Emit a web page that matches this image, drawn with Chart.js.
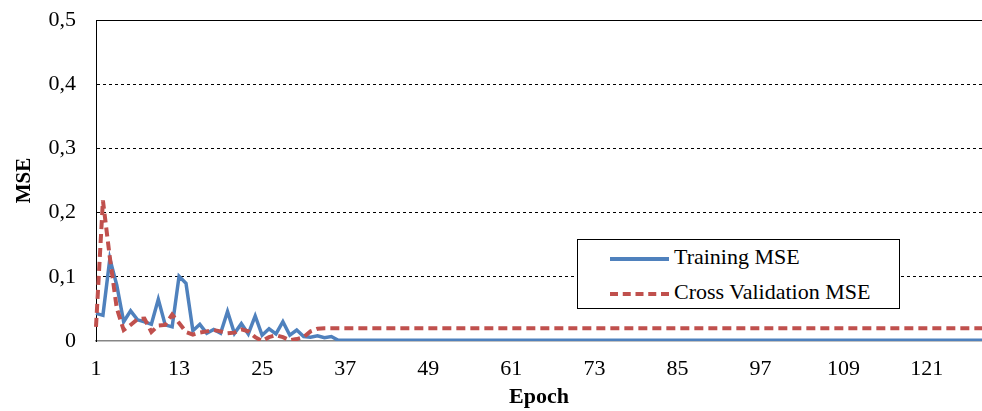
<!DOCTYPE html>
<html>
<head>
<meta charset="utf-8">
<script src="https://cdn.jsdelivr.net/npm/chart.js@4"></script>
<style>
    body { margin: 0; background: #fff; }
    #wrap { position: relative; width: 982px; height: 411px; }
    #legend {
        position: absolute; left: 577px; top: 239px; width: 323px; height: 70px;
        border: 1px solid #000; background: #fff; box-sizing: border-box;
        font-family: 'Liberation Serif', serif; font-size: 22px; color: #000;
    }
    .item { position: absolute; left: 32px; height: 24px; line-height: 24px; white-space: nowrap; }
    .item span.s { display: inline-block; width: 59px; vertical-align: middle; margin-right: 5px; }
</style>
</head>
<body>
<div id="wrap">
    <canvas id="mseChart" width="982" height="411"></canvas>
    <div id="legend">
        <div class="item" style="top:5px"><span class="s" style="border-top:4px solid #4F81BD"></span>Training MSE</div>
        <div class="item" style="top:40px"><span class="s" style="border-top:4px dashed #C0504D"></span>Cross Validation MSE</div>
    </div>
</div>
<script>
// epochs 1..129
const epochs = Array.from({ length: 129 }, (_, i) => i + 1);

const yTicks = [0, 0.1, 0.2, 0.3, 0.4, 0.5];

const trainingMSE = [
    0.043, 0.040, 0.128, 0.087, 0.030, 0.047, 0.033, 0.030, 0.026, 0.065,
    0.025, 0.022, 0.101, 0.090, 0.016, 0.026, 0.012, 0.018, 0.012, 0.046,
    0.012, 0.027, 0.011, 0.039, 0.009, 0.019, 0.011, 0.030, 0.009, 0.017,
    0.007, 0.006, 0.008, 0.005, 0.007, 0.001, 0.001, 0.001, 0.001, 0.001,
    0.001, 0.001, 0.001, 0.001, 0.001, 0.001, 0.001, 0.001, 0.001, 0.001,
    0.001, 0.001, 0.001, 0.001, 0.001, 0.001, 0.001, 0.001, 0.001, 0.001,
    0.001, 0.001, 0.001, 0.001, 0.001, 0.001, 0.001, 0.001, 0.001, 0.001,
    0.001, 0.001, 0.001, 0.001, 0.001, 0.001, 0.001, 0.001, 0.001, 0.001,
    0.001, 0.001, 0.001, 0.001, 0.001, 0.001, 0.001, 0.001, 0.001, 0.001,
    0.001, 0.001, 0.001, 0.001, 0.001, 0.001, 0.001, 0.001, 0.001, 0.001,
    0.001, 0.001, 0.001, 0.001, 0.001, 0.001, 0.001, 0.001, 0.001, 0.001,
    0.001, 0.001, 0.001, 0.001, 0.001, 0.001, 0.001, 0.001, 0.001, 0.001,
    0.001, 0.001, 0.001, 0.001, 0.001, 0.001, 0.001, 0.001, 0.001
];

const crossValidationMSE = [
    0.022, 0.219, 0.130, 0.051, 0.017, 0.025, 0.034, 0.035, 0.014, 0.024,
    0.025, 0.041, 0.028, 0.014, 0.010, 0.013, 0.015, 0.017, 0.015, 0.012,
    0.013, 0.018, 0.015, 0.006, 0.000, 0.006, 0.009, 0.006, 0.001, 0.003,
    0.006, 0.015, 0.019, 0.020, 0.020, 0.020, 0.020, 0.020, 0.020, 0.020,
    0.020, 0.020, 0.020, 0.020, 0.020, 0.020, 0.020, 0.020, 0.020, 0.020,
    0.020, 0.020, 0.020, 0.020, 0.020, 0.020, 0.020, 0.020, 0.020, 0.020,
    0.020, 0.020, 0.020, 0.020, 0.020, 0.020, 0.020, 0.020, 0.020, 0.020,
    0.020, 0.020, 0.020, 0.020, 0.020, 0.020, 0.020, 0.020, 0.020, 0.020,
    0.020, 0.020, 0.020, 0.020, 0.020, 0.020, 0.020, 0.020, 0.020, 0.020,
    0.020, 0.020, 0.020, 0.020, 0.020, 0.020, 0.020, 0.020, 0.020, 0.020,
    0.020, 0.020, 0.020, 0.020, 0.020, 0.020, 0.020, 0.020, 0.020, 0.020,
    0.020, 0.020, 0.020, 0.020, 0.020, 0.020, 0.020, 0.020, 0.020, 0.020,
    0.020, 0.020, 0.020, 0.020, 0.020, 0.020, 0.020, 0.020, 0.020
];

const serif = 'Liberation Serif';

// solid top border of the plot area
const topBorder = {
    id: 'topBorder',
    afterDraw(chart) {
        const { ctx, chartArea } = chart;
        ctx.save();
        ctx.strokeStyle = '#000';
        ctx.lineWidth = 1;
        ctx.beginPath();
        ctx.moveTo(chartArea.left, chartArea.top + 0.5);
        ctx.lineTo(chartArea.right, chartArea.top + 0.5);
        ctx.stroke();
        ctx.restore();
    }
};

new Chart(document.getElementById('mseChart'), {
    type: 'line',
    data: {
        labels: epochs,
        datasets: [
            {
                label: 'Cross Validation MSE',
                data: crossValidationMSE,
                borderColor: '#C0504D',
                borderWidth: 4,
                borderDash: [9, 5],
                pointRadius: 0,
                tension: 0
            },
            {
                label: 'Training MSE',
                data: trainingMSE,
                borderColor: '#4F81BD',
                borderWidth: 3.5,
                pointRadius: 0,
                tension: 0
            }
        ]
    },
    options: {
        responsive: false,
        animation: false,
        layout: { padding: { top: 20, right: 0, left: 0, bottom: 0 } },
        plugins: {
            legend: { display: false },
            tooltip: { enabled: false }
        },
        scales: {
            x: {
                type: 'category',
                grid: { display: false, drawTicks: false },
                border: { color: '#868686', width: 1.5 },
                ticks: {
                    autoSkip: false,
                    maxRotation: 0,
                    padding: 15,
                    color: '#000',
                    font: { family: serif, size: 22 },
                    callback: function (val, i) {
                        return (i % 12 === 0) ? String(epochs[i]) : '';
                    }
                },
                title: {
                    display: true,
                    text: 'Epoch',
                    color: '#000',
                    padding: { top: 5, bottom: 0 },
                    font: { family: serif, size: 22, weight: 'bold' }
                },
                afterFit(scale) {
                    scale.height = 70;
                    scale.paddingLeft = 0;
                    scale.paddingRight = 0;
                }
            },
            y: {
                min: 0,
                max: 0.5,
                afterBuildTicks(scale) {
                    scale.ticks = yTicks.map(v => ({ value: v }));
                },
                grid: {
                    drawTicks: false,
                    color: ctx => (ctx.tick.value === 0 || ctx.tick.value === 0.5) ? 'rgba(0,0,0,0)' : '#000',
                    lineWidth: 1
                },
                border: { color: '#000', width: 1, dash: [3, 3] },
                ticks: {
                    padding: 20,
                    color: '#000',
                    font: { family: serif, size: 22 },
                    callback: v => v === 0 ? '0' : v.toFixed(1).replace('.', ',')
                },
                title: {
                    display: true,
                    text: 'MSE',
                    color: '#000',
                    padding: { top: 12, bottom: 0 },
                    font: { family: serif, size: 21, weight: 'bold' }
                },
                afterFit(scale) {
                    scale.width = 96;
                    scale.paddingTop = 0;
                    scale.paddingBottom = 0;
                }
            }
        }
    },
    plugins: [topBorder]
});
</script>
</body>
</html>
